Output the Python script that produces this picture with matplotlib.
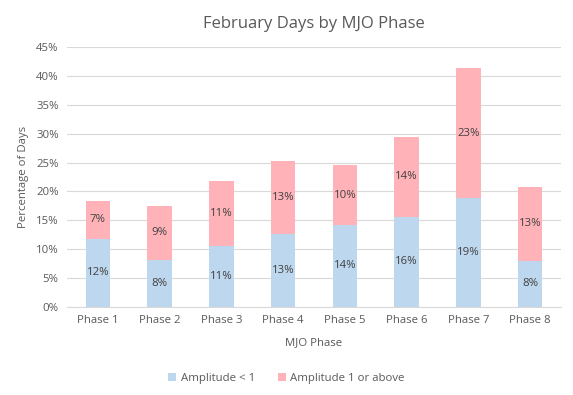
import matplotlib
matplotlib.use("Agg")
import matplotlib.pyplot as plt
import numpy as np
from matplotlib.ticker import PercentFormatter

plt.rcParams["font.family"] = ["Open Sans", "DejaVu Sans"]

phases = ["Phase 1", "Phase 2", "Phase 3", "Phase 4", "Phase 5", "Phase 6", "Phase 7", "Phase 8"]
amp_low = [11.8, 8.1, 10.6, 12.65, 14.2, 15.65, 18.8, 8.0]
amp_high = [6.6, 9.4, 11.2, 12.65, 10.3, 13.85, 22.6, 12.8]

blue = "#BDD7EE"
pink = "#FFB3B9"
grey = "#595959"
fs = 8.2

fig = plt.figure(figsize=(5.73, 3.95), dpi=100)
ax = fig.add_axes([0.117, 0.223, 0.862, 0.658])

x = np.arange(len(phases))
b1 = ax.bar(x, amp_low, width=0.4, color=blue, label="Amplitude < 1", zorder=2)
b2 = ax.bar(x, amp_high, width=0.4, bottom=amp_low, color=pink, label="Amplitude 1 or above", zorder=2)

for i in range(len(phases)):
    ax.text(x[i], amp_low[i] / 2, "%d%%" % round(amp_low[i]), ha="center", va="center",
            fontsize=fs, color="#404040")
    ax.text(x[i], amp_low[i] + amp_high[i] / 2, "%d%%" % round(amp_high[i]), ha="center",
            va="center", fontsize=fs, color="#404040")

ax.set_ylim(0, 45)
ax.set_xlim(-0.5, 7.5)
ax.set_yticks(np.arange(0, 46, 5))
ax.yaxis.set_major_formatter(PercentFormatter(decimals=0))
ax.set_xticks(x)
ax.set_xticklabels(phases)
ax.tick_params(length=0, labelsize=fs, labelcolor=grey, pad=6)
ax.grid(axis="y", color="#D9D9D9", linewidth=0.8, zorder=0)
for s in ["top", "right", "left"]:
    ax.spines[s].set_visible(False)
ax.spines["bottom"].set_color("#D9D9D9")

ax.set_title("February Days by MJO Phase", fontsize=12, color=grey, pad=14)
ax.set_xlabel("MJO Phase", fontsize=fs, color=grey, labelpad=8)
ax.set_ylabel("Percentage of Days", fontsize=fs, color=grey, labelpad=5)

fig.legend(handles=[b1, b2], loc="center", bbox_to_anchor=(0.5, 0.043), ncol=2, frameon=False,
           fontsize=fs, labelcolor=grey, handlelength=0.7, handleheight=0.7, columnspacing=2.0,
           handletextpad=0.4)

plt.savefig("out.png", dpi=100)
